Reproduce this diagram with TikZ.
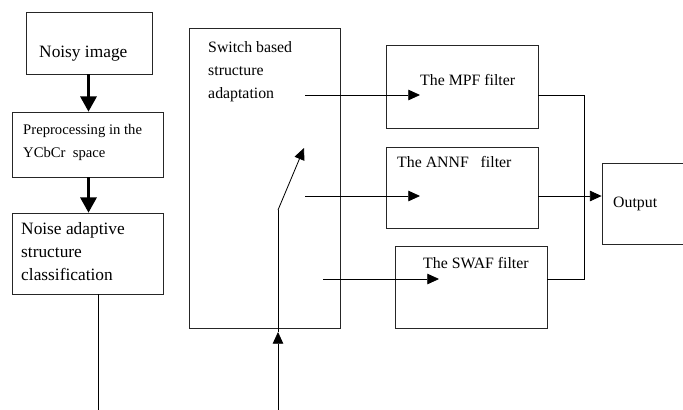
\documentclass[tikz,border=0pt]{standalone}
\usepackage{fontspec}
\setmainfont{Liberation Serif}
\usetikzlibrary{arrows.meta,positioning,fit,calc}

\tikzset{
  box/.style={draw=black!85,line width=0.7pt,inner sep=0pt},
  txt/.style={anchor=north west,inner sep=0pt,align=left,font=\fontsize{13.5}{19.6}\selectfont},
  bigtxt/.style={txt,font=\fontsize{14.8}{19.6}\selectfont},
  conn/.style={line width=0.7pt,-{Triangle[length=10pt,width=9pt]}},
  bigconn/.style={line width=1.8pt,-{Triangle[length=13pt,width=14pt]}},
}

\begin{document}
\begin{tikzpicture}[x=0.03cm,y=-0.03cm]
  \clip (0,0) rectangle (683,409);
  \fill[white] (0,0) rectangle (683,409);

  % left column
  \node [box, fit={(26,12) (152,74)}] (noisy) {};
  \node [box, fit={(12,112) (163,177)}] (prep) {};
  \node [box, fit={(12,213) (163,294)}] (noise) {};

  \node [bigtxt] (tnoisy) at (39,46) {Noisy image};
  \node [txt, font=\fontsize{12.5}{19.6}\selectfont] (tprep) at (23,124) {Preprocessing in the\\YCbCr~~space};
  \node [bigtxt] (tnoise) at (21,222) {Noise adaptive\\structure\\classification};

  \coordinate (ax) at (88.5,0);
  \draw [bigconn] (noisy.south -| ax) -- (prep.north -| ax);
  \draw [bigconn] (prep.south -| ax) -- (noise.north -| ax);

  \coordinate (nout) at (98,412);
  \draw [line width=0.7pt] (noise.south -| nout) -- (nout);

  % switch
  \node [box, fit={(189,28) (340,328)}] (switch) {};
  \node [txt] (tswitch) at (208,41) {Switch based\\structure\\adaptation};

  \coordinate (sin) at (278,412);
  \coordinate (stip) at (278,332);
  \coordinate (spivot) at (278,210);
  \coordinate (sarm) at (304,148);
  \draw [conn] (sin) -- (stip);
  \draw [line width=0.7pt] (stip) -- (spivot);
  \draw [conn] (spivot) -- (sarm);

  % filters
  \node [box, fit={(386,45) (538,128)}] (mpf) {};
  \node [box, fit={(386,147) (538,228)}] (annf) {};
  \node [box, fit={(395,246) (547,328)}] (swaf) {};
  \node [txt] (tmpf) at (420,74) {The MPF filter};
  \node [txt] (tannf) at (397,156) {The ANNF~~~filter};
  \node [txt] (tswaf) at (423,257) {The SWAF filter};

  \coordinate (s1) at (305,95);  \coordinate (e1) at (420,95);
  \coordinate (s2) at (305,196); \coordinate (e2) at (420,196);
  \coordinate (s3) at (323,279); \coordinate (e3) at (439,279);
  \draw [conn] (s1) -- (e1);
  \draw [conn] (s2) -- (e2);
  \draw [conn] (s3) -- (e3);

  % output
  \node [box, fit={(602,163) (700,244)}] (output) {};
  \node [txt] (tout) at (613,197) {Output};

  \coordinate (bus) at (584,0);
  \draw [line width=0.7pt] (mpf.east |- e1) -- (bus |- e1) -- (bus |- e3) -- (swaf.east |- e3);
  \draw [conn] (annf.east |- e2) -- (output.west |- e2);
\end{tikzpicture}
\end{document}
